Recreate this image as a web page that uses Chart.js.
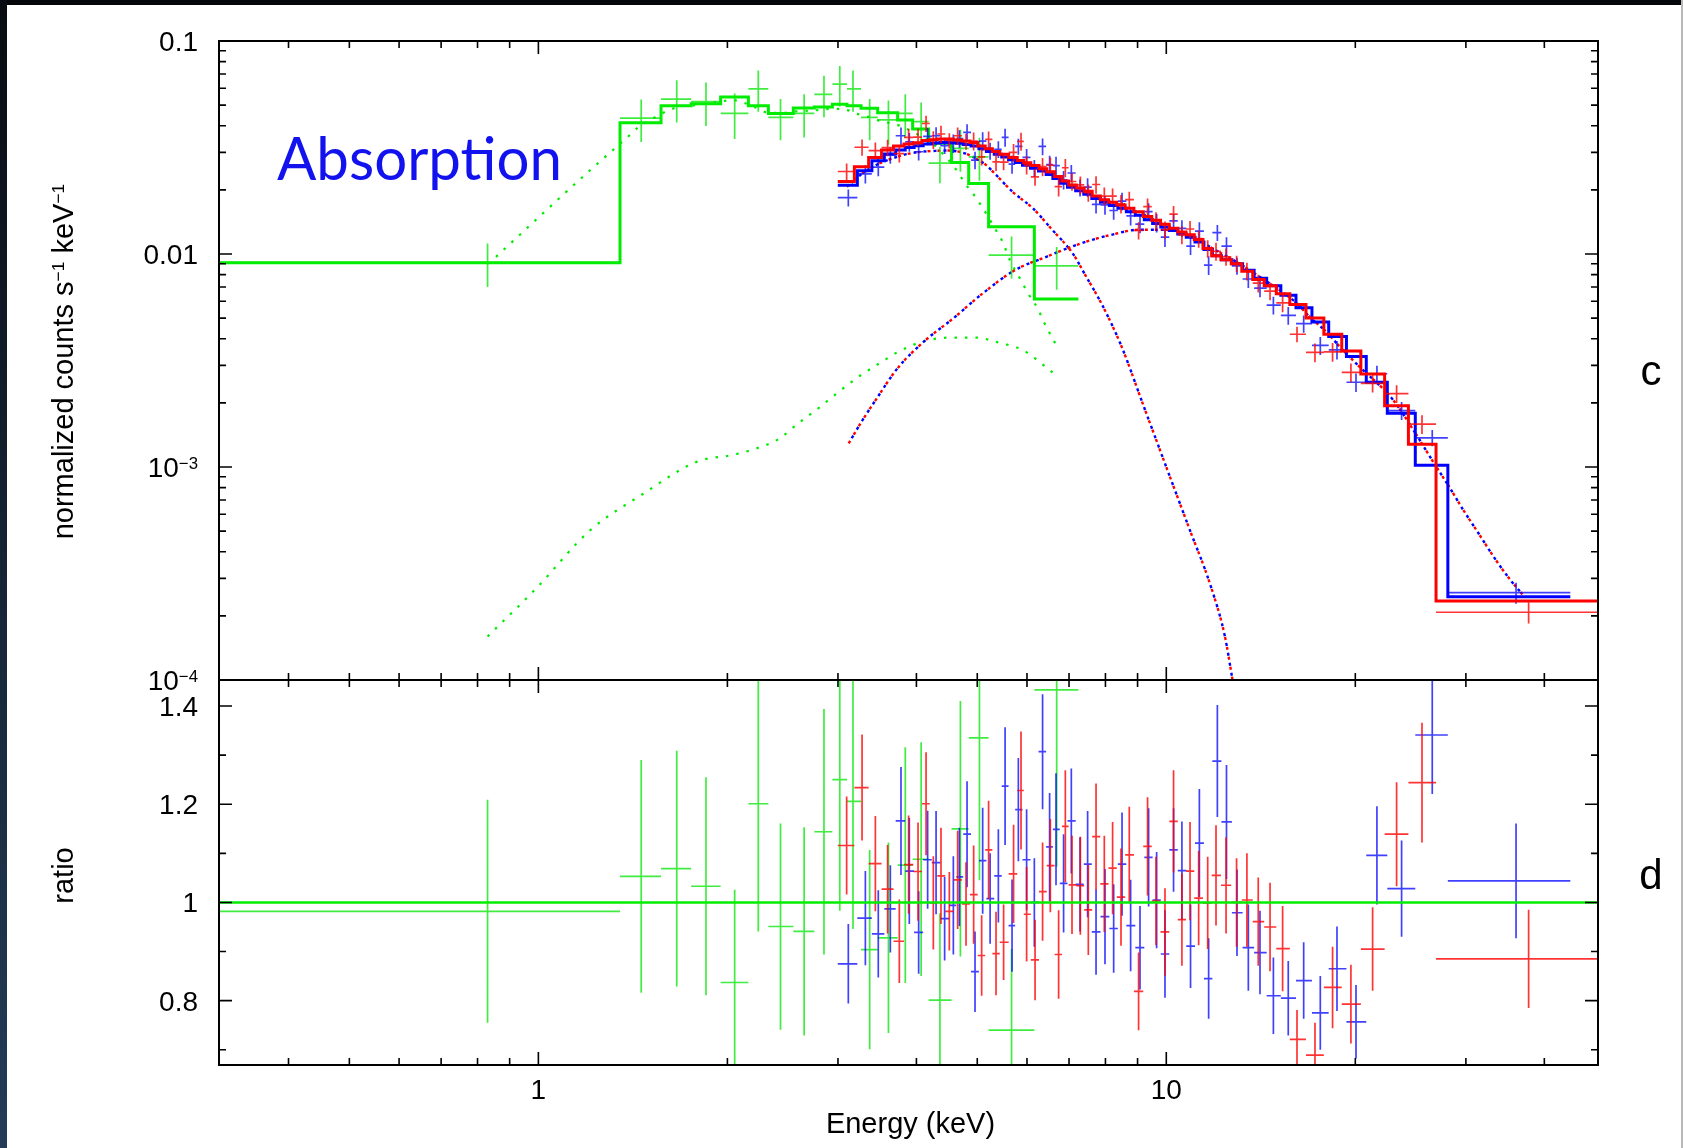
<!DOCTYPE html>
<html>
<head>
<meta charset="utf-8">
<script src="https://cdn.jsdelivr.net/npm/chart.js@4.4.1/dist/chart.umd.min.js"></script>
<style>
  html, body { margin: 0; padding: 0; background: #fff; }
  body { width: 1683px; height: 1148px; position: relative; overflow: hidden; }
  #edgeTop { position: absolute; left: 0; top: 0; width: 1683px; height: 5px; background: #040609; }
  #edgeLeft { position: absolute; left: 0; top: 0; width: 7px; height: 1148px; background: linear-gradient(#080c12, #243c58); }
  #edgeRight { position: absolute; left: 1681px; top: 0; width: 2px; height: 1148px; background: #b8b8b8; }
  canvas { position: absolute; left: 0; top: 0; }
</style>
</head>
<body>
<div id="edgeTop"></div><div id="edgeLeft"></div><div id="edgeRight"></div>
<canvas id="spectrum" width="1683" height="1148"></canvas>
<canvas id="ratio" width="1683" height="1148"></canvas>
<script>
// ---- axis ticks / labels ----
const energyMin = 0.31, energyMax = 48.7
const xMajorTicks = [1, 10]
const xMinorTicks = [0.4, 0.5, 0.6, 0.7, 0.8, 0.9, 2, 3, 4, 5, 6, 7, 8, 9, 20, 30, 40]
const xTickLabels = ['1', '10']
const specMajorTicks = [1e-4, 1e-3, 1e-2, 1e-1]
const specMinorTicks = [2e-4, 3e-4, 4e-4, 5e-4, 6e-4, 7e-4, 8e-4, 9e-4, 2e-3, 3e-3, 4e-3, 5e-3, 6e-3, 7e-3, 8e-3, 9e-3,
  0.02, 0.03, 0.04, 0.05, 0.06, 0.07, 0.08, 0.09]
const specTickLabels = ['10^−4', '10^−3', '0.01', '0.1']
const ratioMin = 0.669, ratioMax = 1.453
const ratioMajorTicks = [0.8, 1.0, 1.2, 1.4]
const ratioMinorTicks = [0.7, 0.9, 1.1, 1.3]
const ratioTickLabels = ['0.8', '1', '1.2', '1.4']
const ratioReference = 1

// ---- green (soft instrument) spectrum ----
const greenEdges = [0.31, 1.349, 1.568, 1.751, 1.951, 2.160, 2.324, 2.547, 2.751, 2.939, 3.101, 3.265, 3.470, 3.734, 3.945, 4.183, 4.550, 4.845, 5.212, 6.164, 7.244]
const greenEnergy = [0.83, 1.458, 1.661, 1.849, 2.054, 2.24, 2.43, 2.65, 2.85, 3.02, 3.17, 3.37, 3.61, 3.84, 4.07, 4.36, 4.70, 5.04, 5.67, 6.69]
const greenRate = [0.0091, 0.0434, 0.0534, 0.0519, 0.0457, 0.0596, 0.0438, 0.0457, 0.0562, 0.0628, 0.0596, 0.0438, 0.0426, 0.0457, 0.0418, 0.0267, 0.0313, 0.0286, 0.00988, 0.00879]
const greenRateErr = [0.0021, 0.0098, 0.012, 0.012, 0.011, 0.013, 0.0096, 0.0105, 0.0124, 0.0135, 0.013, 0.0096, 0.0100, 0.0105, 0.0097, 0.0052, 0.0070, 0.0065, 0.0022, 0.0020]
const greenModel = [0.0091, 0.0413, 0.0497, 0.0508, 0.0546, 0.0497, 0.0457, 0.0485, 0.0490, 0.0505, 0.0497, 0.0483, 0.0461, 0.0426, 0.0386, 0.0331, 0.0269, 0.0214, 0.01343, 0.00615]
const greenRatio = [0.982, 1.053, 1.069, 1.033, 0.837, 1.201, 0.951, 0.941, 1.144, 1.250, 1.206, 0.904, 0.928, 1.076, 1.088, 0.801, 1.150, 1.335, 0.740, 1.433]
const greenRatioErr = [0.227, 0.237, 0.24, 0.222, 0.189, 0.26, 0.21, 0.212, 0.25, 0.267, 0.26, 0.203, 0.194, 0.24, 0.238, 0.177, 0.26, 0.29, 0.165, 0.36]

// ---- red spectrum ----
const redEdges = [2.998, 3.186, 3.357, 3.520, 3.678, 3.822, 3.955, 4.083, 4.200, 4.318, 4.446, 4.584, 4.726, 4.867, 5.008, 5.147, 5.285, 5.430, 5.610, 5.790,
  5.930, 6.085, 6.270, 6.450, 6.640, 6.820, 6.990, 7.190, 7.400, 7.620, 7.850, 8.090, 8.340, 8.600, 8.880, 9.190, 9.480, 9.790, 10.11, 10.43,
  10.75, 11.08, 11.44, 11.81, 12.22, 12.69, 13.19, 13.73, 14.32, 14.97, 15.73, 16.69, 17.82, 19.03, 20.41, 22.27, 24.30, 26.89, 48.7]
const redEnergy = [3.097, 3.277, 3.441, 3.599, 3.757, 3.887, 4.024, 4.144, 4.256, 4.377, 4.513, 4.653, 4.798, 4.934, 5.081, 5.212, 5.356, 5.507, 5.712, 5.870,
  5.992, 6.180, 6.353, 6.536, 6.738, 6.906, 7.077, 7.297, 7.513, 7.729, 7.967, 8.213, 8.470, 8.731, 9.034, 9.337, 9.630, 9.952, 10.27, 10.59,
  10.91, 11.26, 11.64, 12.00, 12.45, 12.94, 13.44, 14.01, 14.63, 15.32, 16.15, 17.25, 18.40, 19.68, 21.31, 23.27, 25.54, 37.76]
const redRate = [0.0244, 0.0317, 0.0306, 0.0316, 0.0296, 0.0353, 0.0354, 0.0410, 0.0344, 0.0366, 0.0341, 0.0359, 0.0338, 0.0339, 0.0286, 0.0345, 0.0271, 0.0270, 0.0300, 0.0338,
  0.0262, 0.0230, 0.0257, 0.0261, 0.0207, 0.0254, 0.0219, 0.0211, 0.0194, 0.0212, 0.0187, 0.0187, 0.0172, 0.0180, 0.0129, 0.0167, 0.0144, 0.0130, 0.0154, 0.0123,
  0.0131, 0.0118, 0.0106, 0.0103, 0.0097, 0.0090, 0.0083, 0.0073, 0.0067, 0.0059, 0.0042, 0.00345, 0.00347, 0.00278, 0.00247, 0.00221, 0.00159, 0.000208]
const redRateErr = [0.0022, 0.0028, 0.0028, 0.0028, 0.0027, 0.0033, 0.0033, 0.0036, 0.0033, 0.0034, 0.0028, 0.0034, 0.0029, 0.0033, 0.0026, 0.0031, 0.0026, 0.0023, 0.0028, 0.0033,
  0.0026, 0.0021, 0.0025, 0.0023, 0.0021, 0.0025, 0.0021, 0.0020, 0.0018, 0.0020, 0.0018, 0.0016, 0.0017, 0.0016, 0.0012, 0.0015, 0.0013, 0.0012, 0.0014, 0.0012,
  0.0012, 0.0011, 0.0010, 0.0010, 0.0009, 0.0008, 0.0008, 0.0007, 0.00064, 0.00057, 0.00035, 0.00035, 0.00035, 0.00028, 0.00023, 0.00021, 0.00016, 0.000024]
const redModel = [0.0219, 0.0257, 0.0284, 0.0308, 0.0321, 0.0328, 0.0333, 0.0341, 0.0344, 0.0347, 0.0347, 0.0343, 0.0339, 0.0334, 0.0321, 0.0312, 0.0303, 0.0294, 0.0284, 0.0275,
  0.0268, 0.0260, 0.0251, 0.0243, 0.0231, 0.0220, 0.0211, 0.0204, 0.0197, 0.0187, 0.0180, 0.0175, 0.0170, 0.0164, 0.0158, 0.0150, 0.0144, 0.0138, 0.0132, 0.0127,
  0.0123, 0.0117, 0.0106, 0.0098, 0.0094, 0.0090, 0.0083, 0.0076, 0.0071, 0.0065, 0.0058, 0.0050, 0.0042, 0.0035, 0.00273, 0.00194, 0.00128, 0.000235]
const redRatio = [1.116, 1.234, 1.079, 1.027, 0.921, 1.077, 1.063, 1.201, 0.999, 1.054, 0.982, 1.046, 0.997, 1.016, 0.892, 1.107, 0.896, 0.919, 1.058, 1.228,
  0.976, 0.883, 1.022, 1.075, 0.894, 1.155, 1.036, 1.034, 0.985, 1.134, 1.038, 1.070, 1.011, 1.097, 0.819, 1.114, 1.003, 0.940, 1.165, 0.965,
  1.064, 1.009, 0.999, 1.055, 1.035, 1.000, 1.005, 0.961, 0.950, 0.906, 0.721, 0.689, 0.827, 0.793, 0.905, 1.139, 1.244, 0.885]
const redRatioErr = [0.100, 0.108, 0.097, 0.090, 0.085, 0.100, 0.100, 0.105, 0.095, 0.098, 0.080, 0.100, 0.085, 0.100, 0.082, 0.100, 0.085, 0.077, 0.100, 0.120,
  0.096, 0.082, 0.100, 0.095, 0.090, 0.114, 0.100, 0.100, 0.092, 0.108, 0.098, 0.094, 0.099, 0.098, 0.079, 0.100, 0.090, 0.089, 0.104, 0.094,
  0.100, 0.096, 0.094, 0.102, 0.098, 0.090, 0.095, 0.090, 0.090, 0.087, 0.060, 0.066, 0.083, 0.080, 0.085, 0.106, 0.122, 0.100]

// ---- blue spectrum ----
const blueEdges = [2.998, 3.221, 3.397, 3.556, 3.707, 3.839, 3.966, 4.100, 4.233, 4.366, 4.508, 4.630, 4.749, 4.887, 5.030, 5.170, 5.321, 5.469, 5.608, 5.745,
  5.902, 6.078, 6.259, 6.436, 6.597, 6.767, 6.961, 7.173, 7.389, 7.610, 7.857, 8.115, 8.373, 8.637, 8.926, 9.226, 9.511, 9.800, 10.11, 10.43,
  10.76, 11.11, 11.48, 11.84, 12.24, 12.72, 13.23, 13.80, 14.45, 15.22, 16.09, 17.06, 18.14, 19.36, 20.82, 22.49, 24.92, 28.08, 44.0]
const blueEnergy = [3.116, 3.317, 3.478, 3.635, 3.780, 3.897, 4.033, 4.168, 4.299, 4.436, 4.580, 4.683, 4.816, 4.959, 5.100, 5.241, 5.402, 5.537, 5.680, 5.813,
  5.992, 6.164, 6.353, 6.519, 6.674, 6.862, 7.059, 7.289, 7.494, 7.729, 7.987, 8.245, 8.502, 8.774, 9.081, 9.372, 9.652, 9.952, 10.27, 10.59,
  10.93, 11.29, 11.68, 12.06, 12.47, 12.96, 13.51, 14.10, 14.81, 15.64, 16.55, 17.59, 18.70, 20.05, 21.65, 23.70, 26.52, 36.06]
const blueRate = [0.0184, 0.0238, 0.0256, 0.0291, 0.0359, 0.0336, 0.0302, 0.0357, 0.0359, 0.0323, 0.0331, 0.0348, 0.0372, 0.0276, 0.0339, 0.0305, 0.0310, 0.0353, 0.0264, 0.0320,
  0.0284, 0.0253, 0.0320, 0.0263, 0.0260, 0.0223, 0.0240, 0.0205, 0.0206, 0.0171, 0.0170, 0.0160, 0.0177, 0.0151, 0.0138, 0.0158, 0.0140, 0.0120, 0.0143, 0.0132,
  0.0109, 0.0128, 0.00887, 0.0126, 0.0109, 0.0088, 0.00763, 0.00691, 0.00575, 0.00515, 0.00471, 0.00372, 0.00355, 0.00250, 0.00274, 0.00184, 0.00137, 0.000257]
const blueRateErr = [0.0017, 0.0024, 0.0024, 0.0026, 0.0034, 0.0034, 0.0027, 0.0033, 0.0035, 0.0028, 0.0033, 0.0033, 0.0035, 0.0026, 0.0034, 0.0028, 0.0028, 0.0034, 0.0026, 0.0028,
  0.0027, 0.0023, 0.0029, 0.0026, 0.0026, 0.0022, 0.0022, 0.0019, 0.0021, 0.0016, 0.0017, 0.0015, 0.0017, 0.0015, 0.0013, 0.0015, 0.0014, 0.0012, 0.0011, 0.0012,
  0.0010, 0.0013, 0.0009, 0.0011, 0.0011, 0.0008, 0.0007, 0.00065, 0.00055, 0.00049, 0.00044, 0.00036, 0.00035, 0.00025, 0.00025, 0.00018, 0.00012, 0.000029]
const blueModel = [0.0210, 0.0246, 0.0274, 0.0295, 0.0308, 0.0316, 0.0322, 0.0328, 0.0332, 0.0334, 0.0333, 0.0331, 0.0327, 0.0321, 0.0312, 0.0303, 0.0294, 0.0285, 0.0277, 0.0269,
  0.0261, 0.0253, 0.0245, 0.0236, 0.0226, 0.0215, 0.0206, 0.0198, 0.0191, 0.0182, 0.0175, 0.0169, 0.0164, 0.0158, 0.0152, 0.0145, 0.0139, 0.0134, 0.0129, 0.0124,
  0.0120, 0.0114, 0.0105, 0.0098, 0.0094, 0.0090, 0.0084, 0.0077, 0.0071, 0.0064, 0.0056, 0.0048, 0.0041, 0.0033, 0.0025, 0.00179, 0.00102, 0.000246]
const blueRatio = [0.875, 0.968, 0.936, 0.987, 1.166, 1.064, 0.939, 1.087, 1.081, 0.967, 0.994, 1.052, 1.139, 0.859, 1.085, 1.008, 1.054, 1.237, 0.953, 1.189,
  1.087, 1.000, 1.307, 1.113, 1.149, 1.039, 1.166, 1.037, 1.078, 0.940, 0.971, 0.947, 1.078, 0.953, 0.908, 1.092, 1.005, 0.895, 1.107, 1.065,
  0.911, 1.121, 0.845, 1.288, 1.164, 0.979, 0.908, 0.898, 0.810, 0.805, 0.841, 0.775, 0.865, 0.757, 1.096, 1.028, 1.341, 1.044]
const blueRatioErr = [0.081, 0.096, 0.089, 0.089, 0.110, 0.108, 0.084, 0.100, 0.105, 0.085, 0.100, 0.100, 0.108, 0.082, 0.108, 0.092, 0.095, 0.120, 0.094, 0.105,
  0.103, 0.090, 0.117, 0.110, 0.114, 0.100, 0.107, 0.096, 0.108, 0.087, 0.097, 0.090, 0.105, 0.093, 0.085, 0.100, 0.098, 0.089, 0.085, 0.100,
  0.085, 0.110, 0.082, 0.114, 0.116, 0.088, 0.088, 0.085, 0.078, 0.076, 0.078, 0.075, 0.086, 0.075, 0.100, 0.098, 0.120, 0.117]

// ---- model components (dotted) ----
const greenTotalEnergy = [0.856, 1.21, 1.297, 1.342, 1.393, 1.44, 1.498, 1.558, 1.627, 1.697, 1.78, 1.87, 1.95, 2.04, 2.135, 2.22, 2.33, 2.45, 2.56, 2.67,
  2.79, 2.91, 3.05, 3.2, 3.37, 3.51, 3.66, 3.8, 3.94, 4.24, 4.40, 4.57, 4.70, 4.83, 4.98, 5.11, 5.35, 5.48, 5.65, 5.83, 6.02, 6.25, 6.36, 6.69]
const greenTotalValue = [0.0097, 0.0248, 0.0297, 0.0325, 0.0358, 0.0392, 0.0421, 0.0450, 0.0478, 0.0495, 0.0500, 0.0510, 0.0520, 0.0528, 0.0510, 0.0487, 0.0460, 0.0460, 0.0467, 0.0470,
  0.0474, 0.0480, 0.0480, 0.0457, 0.0438, 0.0420, 0.0410, 0.0396, 0.0375, 0.0331, 0.0297, 0.0262, 0.0232, 0.0206, 0.0183, 0.0163, 0.0130, 0.0115, 0.0092, 0.0078, 0.00655, 0.0055, 0.0049, 0.0037]
const greenCompEnergy = [0.83, 0.993, 1.205, 1.47, 1.79, 2.04, 2.22, 2.42, 2.59, 2.8, 3.0, 3.24, 3.5, 3.78, 4.12, 4.51, 4.98, 5.42, 5.9, 6.42, 6.69]
const greenCompValue = [1.6e-4, 2.7e-4, 5.0e-4, 7.5e-4, 1.06e-3, 1.14e-3, 1.22e-3, 1.36e-3, 1.6e-3, 1.9e-3, 2.24e-3, 2.66e-3, 3.08e-3, 3.53e-3, 3.9e-3, 4.05e-3, 4.05e-3, 3.83e-3, 3.55e-3, 2.96e-3, 2.68e-3]
const hardEnergy = [3.12, 3.27, 3.44, 3.73, 4.12, 4.58, 5.09, 5.74, 6.44, 7.3, 8.17, 9.06, 10.2, 11.0, 12.0, 13.0, 14.0, 15.0, 16.0, 17.0,
  18.0, 19.0, 20.3, 22.96, 24.9, 26.7, 28.2, 29.7, 31.4, 33.2, 35.0, 37.0]
const hardValue = [1.29e-3, 1.63e-3, 2.05e-3, 2.9e-3, 3.9e-3, 4.99e-3, 6.5e-3, 8.4e-3, 9.7e-3, 0.0112, 0.0123, 0.0130, 0.0130, 0.0120, 0.0104, 0.0091, 0.0079, 0.0069, 0.0060, 0.0050,
  0.0043, 0.0036, 0.00296, 0.00207, 0.00145, 0.00104, 0.00081, 0.00063, 0.00049, 0.00038, 0.000305, 0.00025]
const softEnergy = [3.10, 3.34, 3.74, 4.00, 4.29, 4.50, 4.81, 4.98, 5.16, 5.35, 5.69, 6.13, 6.58, 7.09, 7.46, 7.71, 8.02, 8.49, 9.21, 10.0, 10.85, 11.78, 12.4, 12.75]
const softValue = [0.0207, 0.0248, 0.0287, 0.0300, 0.0305, 0.0306, 0.0295, 0.0280, 0.0262, 0.0236, 0.0196, 0.0164, 0.0130, 0.0101, 0.0078, 0.0066, 0.0053, 0.00367, 0.00192, 0.00100,
  0.000525, 0.000274, 0.00016, 0.0001]

const RED = '#ff0000'
const BLUE = '#0000ff'
const GREEN = '#00ec00'
const FONT = '"Liberation Sans", Arial, Helvetica, sans-serif'

function crossPoints(edges, energy, value, err) {
  return energy.map((e, i) => ({
    x: e, y: value[i], xLo: edges[i], xHi: edges[i + 1], yLo: value[i] - err[i], yHi: value[i] + err[i]
  }))
}

function stepPoints(edges, model) {
  const pts = model.map((m, i) => ({ x: edges[i], y: m }))
  pts.push({ x: edges[edges.length - 1], y: model[model.length - 1] })
  return pts
}

function curvePoints(energy, value) {
  return energy.map((e, i) => ({ x: e, y: value[i] }))
}

// text with "^" superscripts, e.g. "10^−4"
function drawRich(ctx, text, x, y, size, align) {
  const parts = text.split(/(\^\S+)/).filter(s => s.length).map(s => s[0] === '^' ? [s.slice(1), true] : [s, false])
  let width = 0
  parts.forEach(([t, sup]) => {
    ctx.font = (sup ? size * 0.6 : size) + 'px ' + FONT
    width += ctx.measureText(t).width
  })
  let cx = align === 'right' ? x - width : align === 'center' ? x - width / 2 : x
  ctx.textAlign = 'left'
  ctx.textBaseline = 'alphabetic'
  parts.forEach(([t, sup]) => {
    ctx.font = (sup ? size * 0.6 : size) + 'px ' + FONT
    ctx.fillText(t, cx, sup ? y - size * 0.3 : y)
    cx += ctx.measureText(t).width
  })
}

const crossPlugin = {
  id: 'crosses',
  afterDatasetDraw(chart, args) {
    const ds = chart.data.datasets[args.index]
    if (!ds.crosses) return
    const { ctx, chartArea: a, scales: { x, y } } = chart
    ctx.save()
    ctx.beginPath()
    ctx.rect(a.left, a.top, a.right - a.left, a.bottom - a.top)
    ctx.clip()
    ctx.strokeStyle = ds.crossColor
    ctx.lineWidth = 1.7
    ctx.beginPath()
    ds.data.forEach(p => {
      const px = x.getPixelForValue(p.x)
      const py = y.getPixelForValue(p.y)
      ctx.moveTo(x.getPixelForValue(p.xLo), py)
      ctx.lineTo(x.getPixelForValue(p.xHi), py)
      ctx.moveTo(px, y.getPixelForValue(Math.max(p.yLo, 1e-6)))
      ctx.lineTo(px, y.getPixelForValue(p.yHi))
    })
    ctx.stroke()
    ctx.restore()
  }
}

function panelAxes(cfg) {
  return {
    id: 'panelAxes',
    afterDraw(chart) {
      const { ctx, chartArea: a, scales: { x, y } } = chart
      ctx.save()
      ctx.strokeStyle = '#000'
      ctx.lineWidth = 2
      ctx.strokeRect(a.left, a.top, a.right - a.left, a.bottom - a.top)

      ctx.lineWidth = 1.6
      ctx.beginPath()
      const xTicks = (vals, len) => vals.forEach(v => {
        const px = x.getPixelForValue(v)
        ctx.moveTo(px, a.top); ctx.lineTo(px, a.top + len)
        ctx.moveTo(px, a.bottom); ctx.lineTo(px, a.bottom - len)
      })
      const yTicks = (vals, len) => vals.forEach(v => {
        const py = y.getPixelForValue(v)
        ctx.moveTo(a.left, py); ctx.lineTo(a.left + len, py)
        ctx.moveTo(a.right, py); ctx.lineTo(a.right - len, py)
      })
      xTicks(xMajorTicks, 13)
      xTicks(xMinorTicks, 7)
      yTicks(cfg.yMajor, 13)
      yTicks(cfg.yMinor, 7)
      ctx.stroke()

      ctx.fillStyle = '#000'
      cfg.yMajor.forEach((v, i) => drawRich(ctx, cfg.yLabels[i], a.left - 21, y.getPixelForValue(v) + 10, 28, 'right'))
      if (cfg.showX) {
        xMajorTicks.forEach((v, i) => drawRich(ctx, xTickLabels[i], x.getPixelForValue(v), a.bottom + 34, 28, 'center'))
        drawRich(ctx, 'Energy (keV)', (a.left + a.right) / 2 + 2, 1133, 29, 'center')
      }

      ctx.save()
      ctx.translate(73, (a.top + a.bottom) / 2 + cfg.titleShift)
      ctx.rotate(-Math.PI / 2)
      drawRich(ctx, cfg.title, 0, 0, 29, 'center')
      ctx.restore()

      ctx.font = '42px ' + FONT
      ctx.textAlign = 'center'
      ctx.fillText(cfg.tag, 1651, cfg.tagBaseline)

      if (cfg.note) {
        ctx.font = '60px Lato, "Open Sans", sans-serif'
        const w = ctx.measureText(cfg.note).width
        ctx.fillStyle = '#1212ee'
        ctx.textAlign = 'left'
        ctx.translate(277, 180)
        ctx.scale(285 / w, 1)
        ctx.fillText(cfg.note, 0, 0)
      }
      ctx.restore()
    }
  }
}

function baseOptions(padding, yScale) {
  return {
    responsive: false,
    animation: false,
    devicePixelRatio: 1,
    events: [],
    layout: { padding: padding },
    plugins: { legend: { display: false }, tooltip: { enabled: false } },
    elements: { point: { radius: 0 } },
    scales: {
      x: { type: 'logarithmic', bounds: 'data', min: energyMin, max: energyMax, display: false },
      y: Object.assign({ display: false, bounds: 'data' }, yScale)
    }
  }
}

const dotted = (data, color, offset, width, dash, order) => ({
  data: data, borderColor: color, borderWidth: width, borderDash: dash, borderDashOffset: offset,
  cubicInterpolationMode: 'monotone', pointRadius: 0, order: order
})

new Chart(document.getElementById('spectrum'), {
  type: 'line',
  data: {
    datasets: [
      { data: stepPoints(redEdges, redModel), borderColor: RED, borderWidth: 3, stepped: 'before', pointRadius: 0, order: 1 },
      { data: crossPoints(redEdges, redEnergy, redRate, redRateErr), showLine: false, crosses: true, crossColor: 'rgba(255,0,0,0.8)', order: 2 },
      { data: stepPoints(blueEdges, blueModel), borderColor: BLUE, borderWidth: 3, stepped: 'before', pointRadius: 0, order: 3 },
      { data: crossPoints(blueEdges, blueEnergy, blueRate, blueRateErr), showLine: false, crosses: true, crossColor: 'rgba(0,0,255,0.75)', order: 4 },
      { data: stepPoints(greenEdges, greenModel), borderColor: GREEN, borderWidth: 3, stepped: 'before', pointRadius: 0, order: 5 },
      { data: crossPoints(greenEdges, greenEnergy, greenRate, greenRateErr), showLine: false, crosses: true, crossColor: 'rgba(0,230,0,0.75)', order: 6 },
      dotted(curvePoints(softEnergy, softValue), RED, 0, 2.4, [3, 7], 7),
      dotted(curvePoints(softEnergy, softValue), BLUE, 4, 2.4, [3, 7], 8),
      dotted(curvePoints(hardEnergy, hardValue), RED, 0, 2.4, [3, 7], 7),
      dotted(curvePoints(hardEnergy, hardValue), BLUE, 4, 2.4, [3, 7], 8),
      dotted(curvePoints(greenTotalEnergy, greenTotalValue), GREEN, 0, 2.2, [2.5, 8], 9),
      dotted(curvePoints(greenCompEnergy, greenCompValue), GREEN, 0, 2.2, [2.5, 8], 9)
    ]
  },
  options: baseOptions({ left: 219, top: 41, right: 85, bottom: 468 }, { type: 'logarithmic', min: 1e-4, max: 0.1 }),
  plugins: [crossPlugin, panelAxes({
    yMajor: specMajorTicks, yMinor: specMinorTicks, yLabels: specTickLabels, showX: false,
    title: 'normalized counts s^−1 keV^−1', titleShift: 1, tag: 'c', tagBaseline: 385, note: 'Absorption'
  })]
})

new Chart(document.getElementById('ratio'), {
  type: 'line',
  data: {
    datasets: [
      { data: [{ x: energyMin, y: ratioReference }, { x: energyMax, y: ratioReference }], borderColor: GREEN, borderWidth: 2.6, pointRadius: 0, order: 1 },
      { data: crossPoints(redEdges, redEnergy, redRatio, redRatioErr), showLine: false, crosses: true, crossColor: 'rgba(255,0,0,0.8)', order: 2 },
      { data: crossPoints(blueEdges, blueEnergy, blueRatio, blueRatioErr), showLine: false, crosses: true, crossColor: 'rgba(0,0,255,0.75)', order: 3 },
      { data: crossPoints(greenEdges, greenEnergy, greenRatio, greenRatioErr), showLine: false, crosses: true, crossColor: 'rgba(0,230,0,0.75)', order: 4 }
    ]
  },
  options: baseOptions({ left: 219, top: 680, right: 85, bottom: 83 }, { type: 'linear', min: ratioMin, max: ratioMax }),
  plugins: [crossPlugin, panelAxes({
    yMajor: ratioMajorTicks, yMinor: ratioMinorTicks, yLabels: ratioTickLabels, showX: true,
    title: 'ratio', titleShift: 3, tag: 'd', tagBaseline: 889
  })]
})
</script>
</body>
</html>
